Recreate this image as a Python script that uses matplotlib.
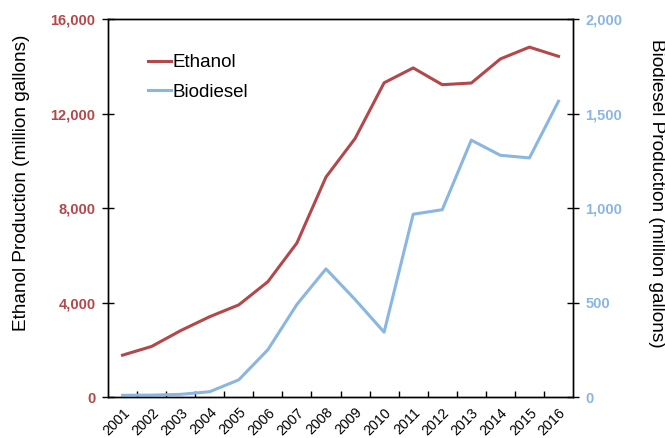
import matplotlib
matplotlib.use("Agg")
import matplotlib.pyplot as plt
from matplotlib.ticker import FuncFormatter, FixedLocator
import numpy as np

plt.rcParams['font.family'] = ['Liberation Sans', 'DejaVu Sans']

years = [str(y) for y in range(2001, 2017)]
ethanol = [1770, 2140, 2810, 3400, 3900, 4880, 6520, 9310, 10940, 13300,
           13930, 13220, 13290, 14310, 14810, 14420]
biodiesel = [9, 10, 14, 28, 91, 250, 490, 678, 516, 343,
             967, 991, 1359, 1279, 1265, 1565]

eth_color = '#B4474A'
bio_color = '#8AB6E2'

fig = plt.figure(figsize=(6.65, 4.38), dpi=100)
ax = fig.add_axes([0.1624, 0.0936, 0.6993, 0.863])
ax2 = ax.twinx()

x = np.arange(len(years))
l1, = ax.plot(x, ethanol, color=eth_color, lw=2.2, label='Ethanol')
l2, = ax2.plot(x, biodiesel, color=bio_color, lw=2.2, label='Biodiesel')

ax.set_xlim(-0.5, len(years) - 0.5)
ax.set_ylim(0, 16000)
ax2.set_ylim(0, 2000)
ax.set_yticks([0, 4000, 8000, 12000, 16000])
ax2.set_yticks([0, 500, 1000, 1500, 2000])
fmt = FuncFormatter(lambda v, p: f"{int(v):,}")
ax.yaxis.set_major_formatter(fmt)
ax2.yaxis.set_major_formatter(fmt)

ax.tick_params(axis='y', direction='inout', length=8, width=1,
               labelsize=10.5, labelcolor=eth_color, pad=5)
for t in ax.get_yticklabels():
    t.set_fontweight('bold')
ax2.tick_params(axis='y', direction='inout', length=8, width=1,
                labelsize=10.5, labelcolor=bio_color, pad=5)
for t in ax2.get_yticklabels():
    t.set_fontweight('bold')

ax.set_xticks(x)
ax.set_xticklabels(years, rotation=45, ha='right', rotation_mode='anchor',
                   fontsize=10.3)
ax.tick_params(axis='x', which='major', length=0, pad=6)
ax.xaxis.set_minor_locator(FixedLocator(np.arange(0.5, len(years) - 0.5, 1)))
ax.tick_params(axis='x', which='minor', direction='in', length=4, width=1)

for a in (ax, ax2):
    for s in a.spines.values():
        s.set_color('black')
        s.set_linewidth(1)

ax.set_ylabel('Ethanol Production (million gallons)', fontsize=13.7,
              va='center', ha='center')
ax.yaxis.set_label_coords(-0.185, 0.567)
ax2.set_ylabel('Biodiesel Production (million gallons)', fontsize=13.7,
               rotation=-90, va='center', ha='center')
ax2.yaxis.set_label_coords(1.179, 0.538)

ax.legend(handles=[l1, l2], loc='upper left', bbox_to_anchor=(0.069, 0.927),
          frameon=False, fontsize=13.5, handlelength=1.25, handletextpad=0.1,
          labelspacing=0.66, borderaxespad=0)

fig.savefig('out.png', dpi=100)
